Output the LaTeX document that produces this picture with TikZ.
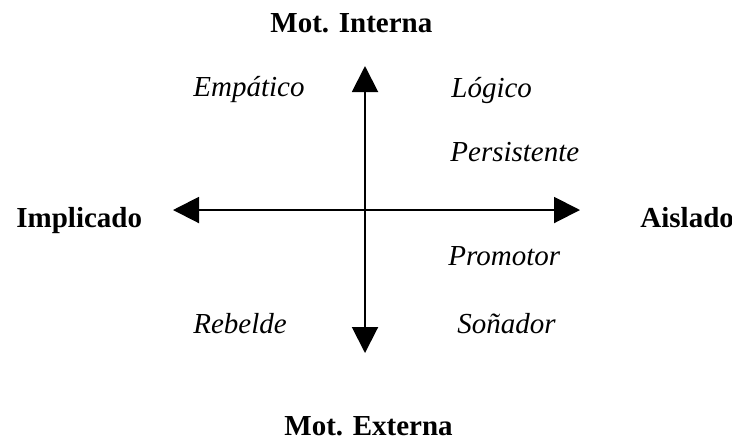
\documentclass[tikz,border=0pt]{standalone}
\usepackage{fontspec}
\setmainfont{Liberation Serif}
\usetikzlibrary{arrows.meta}

\begin{document}
\begin{tikzpicture}[x=0.5pt, y=-0.5pt,
                    axis line/.style={line width=1pt,
                      {Triangle[length=13pt,width=13pt]}-{Triangle[length=13pt,width=13pt]}},
                    pole node/.style={inner sep=0pt,anchor=base west,font=\fontsize{14.5}{17}\selectfont\bfseries},
                    type node/.style={inner sep=0pt,anchor=base west,font=\fontsize{14.5}{17}\selectfont\itshape}]

  \useasboundingbox (0,0) rectangle (732,441);

  % ends of the two axes
  \coordinate (left)   at (173,210);
  \coordinate (right)  at (580,210);
  \coordinate (top)    at (365,66);
  \coordinate (bottom) at (365,353);

  \draw[axis line] (left) -- (right);
  \draw[axis line] (top) -- (bottom);

  % poles
  \node[pole node] (interna) at (270,32)  {Mot. Interna};
  \node[pole node] (externa) at (284,435) {Mot. Externa};
  \node[pole node] (impl)    at (16,227)  {Implicado};
  \node[pole node] (aisl)    at (640,227) {Aislado};

  % types
  \node[type node] (empatico)    at (193,96)  {Empático};
  \node[type node] (logico)      at (451,97)  {Lógico};
  \node[type node] (persistente) at (450,161) {Persistente};
  \node[type node] (promotor)    at (448,265) {Promotor};
  \node[type node] (rebelde)     at (193,333) {Rebelde};
  \node[type node] (sonador)     at (457,333) {Soñador};

\end{tikzpicture}
\end{document}
